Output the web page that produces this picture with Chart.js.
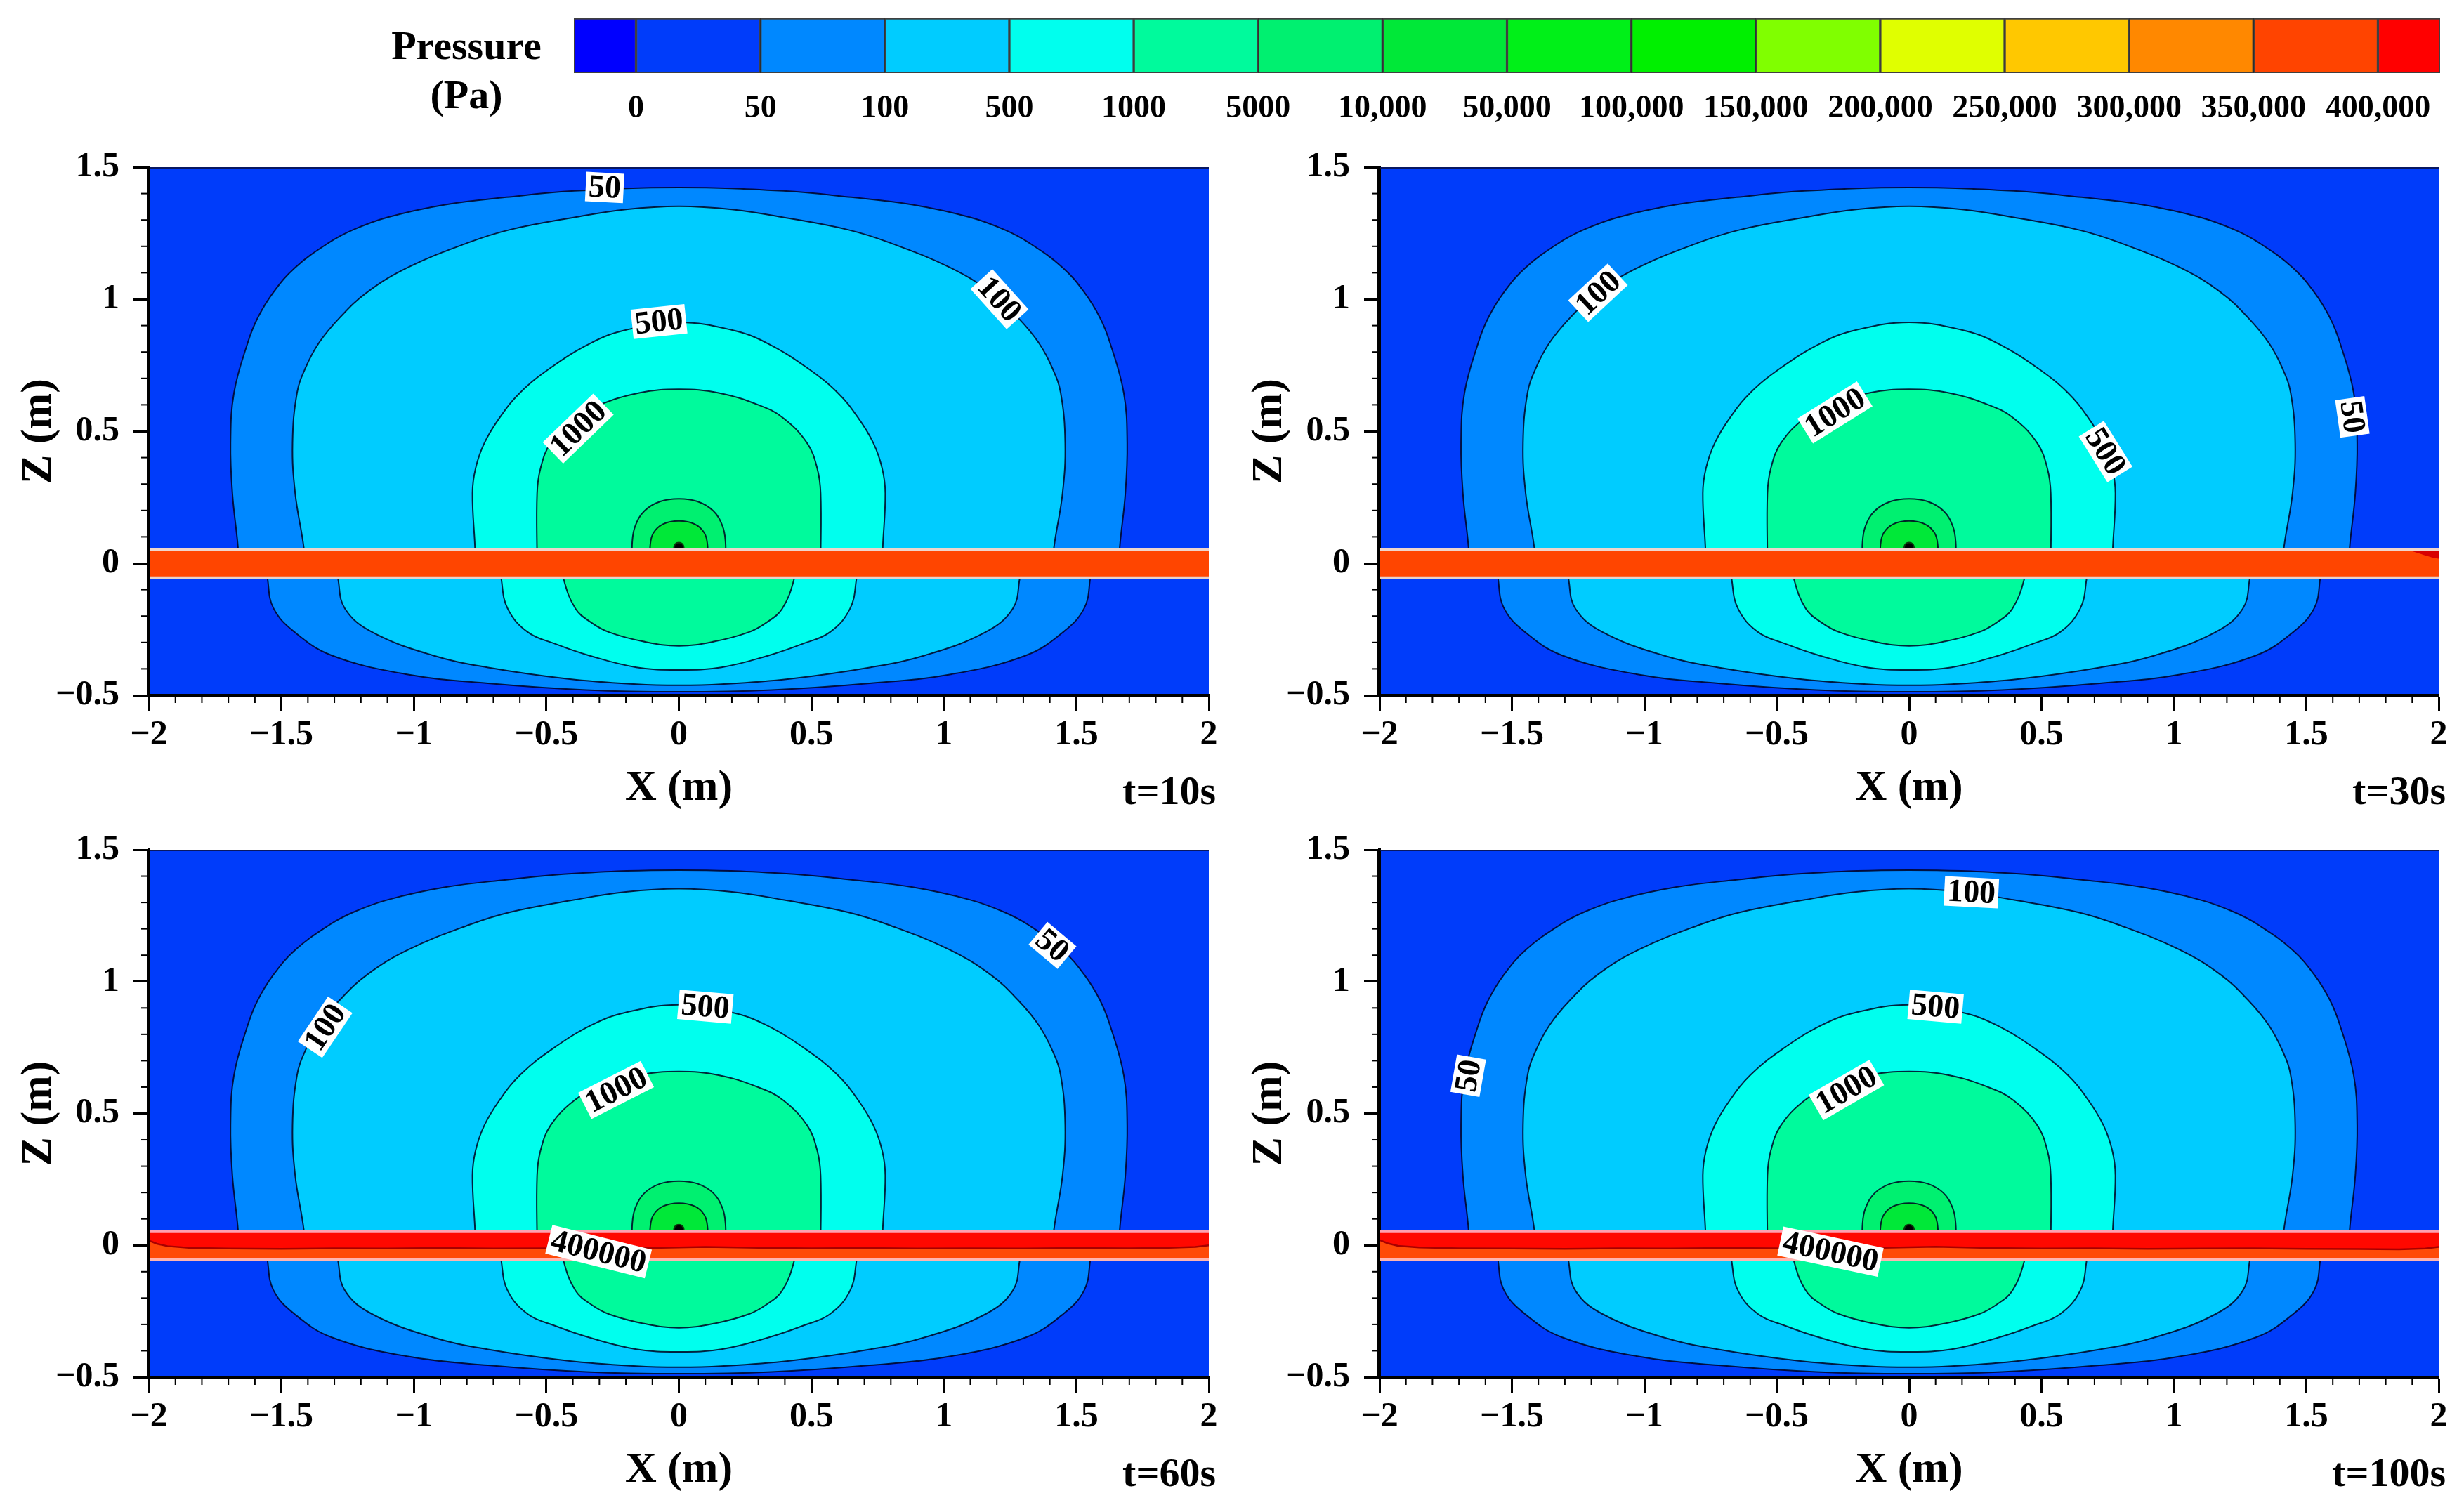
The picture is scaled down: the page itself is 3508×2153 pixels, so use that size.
<!DOCTYPE html>
<html><head><meta charset="utf-8">
<script src="https://cdn.jsdelivr.net/npm/chart.js@4.4.1/dist/chart.umd.min.js"></script>
<style>
html,body{margin:0;padding:0;background:#fff;width:3508px;height:2153px;overflow:hidden}
canvas{position:absolute}
</style></head><body>
<canvas id="cb" width="3508" height="180" style="left:0px;top:0px"></canvas>
<canvas id="p0" width="1754" height="980" style="left:0px;top:180px"></canvas>
<canvas id="p1" width="1754" height="980" style="left:1754px;top:180px"></canvas>
<canvas id="p2" width="1754" height="993" style="left:0px;top:1160px"></canvas>
<canvas id="p3" width="1754" height="993" style="left:1754px;top:1160px"></canvas>
<script>
// ---------------- DATA ----------------
const colorbarLabels = ['0','50','100','500','1000','5000','10,000','50,000','100,000','150,000','200,000','250,000','300,000','350,000','400,000'];
const colorbarColors = ['#0000ff','#003cfa','#0088ff','#00ccff','#00ffee','#00fa9c','#00f070','#00e838','#00f018','#00f000','#80ff00','#e0ff00','#ffc800','#ff8800','#ff4400','#ff0000'];
const timeLabels = ['t=10s','t=30s','t=60s','t=100s'];

// contour boundaries [x (m), z (m)] (same for all four times)
const c50Upper = [[-1.66,0],[-1.665,0.075],[-1.685,0.265],[-1.692,0.455],[-1.679,0.645],[-1.627,0.835],[-1.589,0.93],[-1.531,1.025],[-1.448,1.12],[-1.319,1.215],[-1.229,1.263],[-1.10,1.31],[-0.882,1.358],[-0.651,1.386],[-0.394,1.41],[0,1.423],[0.394,1.41],[0.651,1.386],[0.882,1.358],[1.10,1.31],[1.229,1.263],[1.319,1.215],[1.448,1.12],[1.531,1.025],[1.589,0.93],[1.627,0.835],[1.679,0.645],[1.692,0.455],[1.685,0.265],[1.665,0.075],[1.66,0]];
const c100Upper = [[-1.415,0],[-1.415,0.056],[-1.448,0.265],[-1.458,0.455],[-1.441,0.645],[-1.409,0.74],[-1.358,0.835],[-1.28,0.93],[-1.178,1.025],[-1.023,1.12],[-0.792,1.215],[-0.638,1.263],[-0.394,1.31],[-0.2,1.34],[0,1.352],[0.2,1.34],[0.394,1.31],[0.638,1.263],[0.792,1.215],[1.023,1.12],[1.178,1.025],[1.28,0.93],[1.358,0.835],[1.409,0.74],[1.441,0.645],[1.458,0.455],[1.448,0.265],[1.415,0.056],[1.415,0]];
const c500Upper = [[-0.769,0],[-0.769,0.051],[-0.779,0.265],[-0.767,0.36],[-0.734,0.455],[-0.677,0.55],[-0.60,0.645],[-0.484,0.74],[-0.33,0.835],[-0.201,0.883],[0,0.912],[0.201,0.883],[0.33,0.835],[0.484,0.74],[0.60,0.645],[0.677,0.55],[0.734,0.455],[0.767,0.36],[0.779,0.265],[0.769,0.051],[0.769,0]];
const c1000Upper = [[-0.535,0],[-0.535,0.265],[-0.522,0.36],[-0.484,0.455],[-0.394,0.55],[-0.304,0.598],[-0.15,0.645],[0,0.659],[0.15,0.645],[0.304,0.598],[0.394,0.55],[0.484,0.455],[0.522,0.36],[0.535,0.265],[0.535,0]];
const c5000Upper = [[-0.176,0],[-0.176,0.08],[-0.165,0.14],[-0.13,0.198],[-0.07,0.234],[0,0.244],[0.07,0.234],[0.13,0.198],[0.165,0.14],[0.176,0.08],[0.176,0]];
const c10000Upper = [[-0.108,0],[-0.108,0.07],[-0.096,0.115],[-0.06,0.148],[0,0.16],[0.06,0.148],[0.096,0.115],[0.108,0.07],[0.108,0]];
const c50Lower = [[-1.554,0],[-1.552,-0.06],[-1.53,-0.17],[-1.45,-0.261],[-1.31,-0.349],[-1.03,-0.42],[-0.72,-0.455],[-0.35,-0.48],[0,-0.487],[0.35,-0.48],[0.72,-0.455],[1.03,-0.42],[1.31,-0.349],[1.45,-0.261],[1.53,-0.17],[1.552,-0.06],[1.554,0]];
const c100Lower = [[-1.29,0],[-1.286,-0.06],[-1.26,-0.172],[-1.157,-0.261],[-0.928,-0.349],[-0.724,-0.394],[-0.417,-0.438],[-0.16,-0.458],[0,-0.462],[0.16,-0.458],[0.417,-0.438],[0.724,-0.394],[0.928,-0.349],[1.157,-0.261],[1.26,-0.172],[1.286,-0.06],[1.29,0]];
const c500Lower = [[-0.672,0],[-0.67,-0.06],[-0.646,-0.172],[-0.57,-0.261],[-0.468,-0.305],[-0.34,-0.349],[-0.161,-0.394],[0,-0.404],[0.161,-0.394],[0.34,-0.349],[0.468,-0.305],[0.57,-0.261],[0.646,-0.172],[0.67,-0.06],[0.672,0]];
const c1000Lower = [[-0.437,0],[-0.435,-0.06],[-0.39,-0.172],[-0.33,-0.225],[-0.264,-0.261],[-0.136,-0.296],[0,-0.313],[0.136,-0.296],[0.264,-0.261],[0.33,-0.225],[0.39,-0.172],[0.435,-0.06],[0.437,0]];
const sourcePoint = [[0,0.06]];

// pipe band and the red / orange interface inside it (t=60s, t=100s)
const pipeTop = 0.052, pipeBottom = -0.055;
const ifaceX = [-2.05,-2,-1.97,-1.93,-1.85,-1.7,-1.5,-1.3,-1.1,-0.9,-0.7,-0.5,-0.3,-0.1,0.1,0.3,0.5,0.7,0.9,1.1,1.3,1.5,1.7,1.85,1.95,2,2.05];
const iface60Z = [0.02,0.018,0.006,-0.003,-0.009,-0.012,-0.013,-0.011,-0.012,-0.010,-0.012,-0.011,-0.013,-0.010,-0.006,-0.009,-0.011,-0.010,-0.012,-0.011,-0.012,-0.010,-0.011,-0.009,-0.006,0.0,0.0];
const iface100Z = [0.022,0.02,0.008,-0.002,-0.008,-0.011,-0.012,-0.013,-0.011,-0.012,-0.010,-0.011,-0.012,-0.009,-0.005,-0.010,-0.012,-0.011,-0.013,-0.012,-0.011,-0.013,-0.014,-0.015,-0.012,-0.006,-0.006];
const patch30 = [[1.88,0.052],[2.05,0.052],[2.05,0.01],[1.98,0.02],[1.93,0.036]];

// contour labels per time
const lab10Text = ['50','100','500','1000'];
const lab10X = [-0.28,1.21,-0.075,-0.38];
const lab10Z = [1.423,1.0,0.915,0.51];
const lab10Ang = [3,48,-6,-44];
const lab30Text = ['100','1000','500','50'];
const lab30X = [-1.175,-0.28,0.742,1.674];
const lab30Z = [1.024,0.571,0.423,0.554];
const lab30Ang = [-43,-32,58,82];
const lab60Text = ['50','100','500','1000','400000'];
const lab60X = [1.41,-1.335,0.1,-0.237,-0.303];
const lab60Z = [1.137,0.827,0.905,0.589,-0.024];
const lab60Ang = [40,-56,5,-27,14];
const lab100Text = ['100','500','1000','50','400000'];
const lab100X = [0.235,0.1,-0.237,-1.665,-0.297];
const lab100Z = [1.339,0.905,0.589,0.643,-0.024];
const lab100Ang = [3,5,-30,-80,12];

// ---------------- RENDERING ----------------
const SERIF = "'Liberation Serif','Times New Roman',serif";
const BG = colorbarColors[1];
const LINE = 'rgba(0,0,30,0.85)';
const fmt = v => { const r = Math.round(v*10)/10; return (r < 0 ? '\u2212' : '') + Math.abs(r).toString(); };
const pts = p => p.map(([x,z]) => ({x:x, y:z}));

function region(pairs, color, order, stroke, tension){
  return {data: pts(pairs), showLine:true, polyFill: color,
    borderColor: stroke ? LINE : 'rgba(0,0,0,0)', borderWidth: stroke ? 2 : 1,
    tension: tension === undefined ? 0.4 : tension, pointRadius:0, pointHoverRadius:0, order: order};
}
function lineDs(pairs, color, width, order){
  return {data: pts(pairs), showLine:true, borderColor: color, borderWidth: width, tension:0,
    pointRadius:0, pointHoverRadius:0, order: order};
}

const polyFillPlugin = {
  id:'polyFill',
  beforeDatasetDraw(chart, args){
    const ds = chart.data.datasets[args.index];
    if (!ds.polyFill) return;
    const line = args.meta.dataset; if (!line) return;
    const ctx = chart.ctx, a = chart.chartArea;
    ctx.save();
    ctx.beginPath(); ctx.rect(a.left, a.top, a.right - a.left, a.bottom - a.top); ctx.clip();
    line.updateControlPoints(a, 'x');
    ctx.beginPath(); line.path(ctx); ctx.closePath();
    ctx.fillStyle = ds.polyFill; ctx.fill();
    ctx.restore();
  }
};
const bgPlugin = {
  id:'plotBg',
  beforeDraw(chart){
    const a = chart.chartArea, ctx = chart.ctx;
    ctx.save(); ctx.fillStyle = BG; ctx.fillRect(a.left, a.top, a.right - a.left, a.bottom - a.top); ctx.restore();
  }
};
function makeLabelPlugin(text, xs, zs, angs){
  return {id:'contourLabels', afterDatasetsDraw(chart){
    const ctx = chart.ctx, sx = chart.scales.x, sy = chart.scales.y;
    ctx.save();
    ctx.font = 'bold 46px ' + SERIF; ctx.textAlign = 'center'; ctx.textBaseline = 'middle';
    text.forEach((t, i) => {
      const px = sx.getPixelForValue(xs[i]), py = sy.getPixelForValue(zs[i]);
      const w = ctx.measureText(t).width + 8, h = 42;
      ctx.save(); ctx.translate(px, py); ctx.rotate(angs[i] * Math.PI / 180);
      ctx.fillStyle = '#fff'; ctx.fillRect(-w/2, -h/2, w, h);
      ctx.fillStyle = '#000'; ctx.fillText(t, 0, 2);
      ctx.restore();
    });
    ctx.restore();
  }};
}
function makeDecor(timeLabel){
  return {id:'decor', afterDraw(chart){
    const ctx = chart.ctx, a = chart.chartArea, sx = chart.scales.x, sy = chart.scales.y;
    ctx.save();
    ctx.strokeStyle = 'rgba(10,20,80,0.9)'; ctx.lineWidth = 2;
    ctx.beginPath(); ctx.moveTo(a.left, a.top + 1); ctx.lineTo(a.right, a.top + 1); ctx.stroke();
    ctx.strokeStyle = '#000'; ctx.lineWidth = 4;
    ctx.beginPath(); ctx.moveTo(a.left - 1, a.top); ctx.lineTo(a.left - 1, a.bottom + 1); ctx.lineTo(a.right, a.bottom + 1); ctx.stroke();
    ctx.lineWidth = 2;
    for (let i = -20; i <= 20; i++) {
      if (i % 5 === 0) continue;
      const px = sx.getPixelForValue(i / 10);
      ctx.beginPath(); ctx.moveTo(px, a.bottom); ctx.lineTo(px, a.bottom + 11); ctx.stroke();
    }
    for (let i = -5; i <= 15; i++) {
      if (i % 5 === 0) continue;
      const py = sy.getPixelForValue(i / 10);
      ctx.beginPath(); ctx.moveTo(a.left, py); ctx.lineTo(a.left - 11, py); ctx.stroke();
    }
    ctx.fillStyle = '#000'; ctx.textBaseline = 'middle';
    ctx.font = 'bold 62px ' + SERIF; ctx.textAlign = 'center';
    ctx.fillText('X (m)', (a.left + a.right) / 2, a.bottom + 133);
    ctx.font = 'bold 58px ' + SERIF; ctx.textAlign = 'right';
    ctx.fillText(timeLabel, a.right + 10, a.bottom + 140);
    ctx.save(); ctx.translate(a.left - 156, (a.top + a.bottom) / 2); ctx.rotate(-Math.PI / 2);
    ctx.font = 'bold 62px ' + SERIF; ctx.textAlign = 'center';
    ctx.fillText('Z (m)', 0, 0);
    ctx.restore();
    ctx.restore();
  }};
}

function contourDatasets(){
  const c = colorbarColors;
  return [
    region(c50Upper, c[2], 100, true), region(c50Lower, c[2], 99, true),
    region(c100Upper, c[3], 98, true), region(c100Lower, c[3], 97, true),
    region(c500Upper, c[4], 96, true), region(c500Lower, c[4], 95, true),
    region(c1000Upper, c[5], 94, true), region(c1000Lower, c[5], 93, true),
    region(c5000Upper, c[6], 92, true), region(c10000Upper, c[7], 91, true),
    {data: pts(sourcePoint), showLine:false, pointRadius:7, pointBackgroundColor:'#000', pointBorderColor:'#0a3a0a', pointBorderWidth:2, order:90}
  ];
}
const pipeRect = [[-2.05,pipeTop],[2.05,pipeTop],[2.05,pipeBottom],[-2.05,pipeBottom]];
function pipeDatasets(kind){
  const ds = [];
  if (kind === 'orange') {
    ds.push(region(pipeRect, '#ff4500', 20, false, 0.000001));
    ds.push(lineDs([[-2.05,pipeTop],[2.05,pipeTop]], '#efd6cc', 4, 15));
    ds.push(lineDs([[-2.05,pipeBottom],[2.05,pipeBottom]], '#e8d0c8', 4, 15));
  } else {
    const zs = kind === 'red60' ? iface60Z : iface100Z;
    const iface = ifaceX.map((x, i) => [x, zs[i]]);
    const redPoly = [[-2.05,pipeTop],[2.05,pipeTop]].concat(iface.slice().reverse());
    ds.push(region(pipeRect, '#ff4a08', 20, false, 0.000001));
    ds.push(region(redPoly, '#ff0800', 19, false, 0.000001));
    ds.push(lineDs(iface, '#a80000', 2.5, 18));
    ds.push(lineDs([[-2.05,pipeTop],[2.05,pipeTop]], '#ffa0b0', 4, 15));
    ds.push(lineDs([[-2.05,pipeBottom],[2.05,pipeBottom]], '#ffb4b0', 4, 15));
  }
  return ds;
}

function makePanel(id, padTop, xAxisH, yAxisW, padRight, pipeKind, extra, labelPlugin, timeLabel){
  const datasets = contourDatasets().concat(pipeDatasets(pipeKind)).concat(extra);
  const tickFont = {family: SERIF, size: 50, weight: 'bold'};
  new Chart(document.getElementById(id), {
    type: 'scatter',
    data: {datasets: datasets},
    options: {
      responsive: false, animation: false, devicePixelRatio: 1, events: [],
      layout: {padding: {top: padTop, right: padRight, left: 0, bottom: 0}},
      plugins: {legend: {display: false}, tooltip: {enabled: false}},
      scales: {
        x: {type: 'linear', min: -2, max: 2, afterFit: s => { s.height = xAxisH; },
          ticks: {stepSize: 0.5, font: tickFont, color: '#000', padding: 5, maxRotation: 0, autoSkip: false, callback: v => fmt(v)},
          grid: {drawOnChartArea: false, tickLength: 22, tickWidth: 3, tickColor: '#000'},
          border: {display: true, color: '#000', width: 4}},
        y: {type: 'linear', min: -0.5, max: 1.5, afterFit: s => { s.width = yAxisW; },
          ticks: {stepSize: 0.5, font: tickFont, color: '#000', padding: 20, autoSkip: false, callback: v => fmt(v)},
          grid: {drawOnChartArea: false, tickLength: 22, tickWidth: 3, tickColor: '#000'},
          border: {display: true, color: '#000', width: 4}}
      }
    },
    plugins: [bgPlugin, polyFillPlugin, labelPlugin, makeDecor(timeLabel)]
  });
}

makePanel('p0', 58, 170, 212, 33, 'orange', [], makeLabelPlugin(lab10Text, lab10X, lab10Z, lab10Ang), timeLabels[0]);
makePanel('p1', 58, 170, 210, 36, 'orange', [region(patch30, '#d80000', 16, false, 0.000001)], makeLabelPlugin(lab30Text, lab30X, lab30Z, lab30Ang), timeLabels[1]);
makePanel('p2', 49, 192, 212, 33, 'red60', [], makeLabelPlugin(lab60Text, lab60X, lab60Z, lab60Ang), timeLabels[2]);
makePanel('p3', 49, 192, 210, 36, 'red100', [], makeLabelPlugin(lab100Text, lab100X, lab100Z, lab100Ang), timeLabels[3]);

// ---------------- COLOR BAR ----------------
const nBands = colorbarColors.length;
const cbDatasets = colorbarColors.map((col, k) => ({
  data: [[Math.max(0, k - 0.5), Math.min(nBands - 1, k + 0.5)]],
  backgroundColor: col, borderColor: 'rgba(0,0,0,0.75)', borderWidth: 2, borderSkipped: false,
  barPercentage: 1, categoryPercentage: 1, grouped: false
}));
new Chart(document.getElementById('cb'), {
  type: 'bar',
  data: {labels: [''], datasets: cbDatasets},
  options: {
    indexAxis: 'y', responsive: false, animation: false, devicePixelRatio: 1, events: [],
    layout: {padding: {left: 817, right: 34, top: 26, bottom: 0}},
    plugins: {legend: {display: false}, tooltip: {enabled: false}},
    scales: {
      x: {type: 'linear', min: 0, max: nBands - 1,
        afterBuildTicks: s => { s.ticks = colorbarLabels.map((l, i) => ({value: i + 0.5})); },
        afterFit: s => { s.height = 76; },
        ticks: {autoSkip: false, maxRotation: 0, minRotation: 0, padding: 16, color: '#000',
          font: {family: SERIF, size: 46, weight: 'bold'}, callback: (v, i) => colorbarLabels[i]},
        grid: {display: false}, border: {display: false}},
      y: {display: false}
    }
  },
  plugins: [{id: 'cbTitle', afterDraw(chart){
    const ctx = chart.ctx; ctx.save();
    ctx.fillStyle = '#000'; ctx.font = 'bold 58px ' + SERIF; ctx.textAlign = 'center'; ctx.textBaseline = 'middle';
    ctx.fillText('Pressure', 664, 69); ctx.fillText('(Pa)', 664, 139);
    ctx.restore();
  }}]
});
</script>
</body></html>
